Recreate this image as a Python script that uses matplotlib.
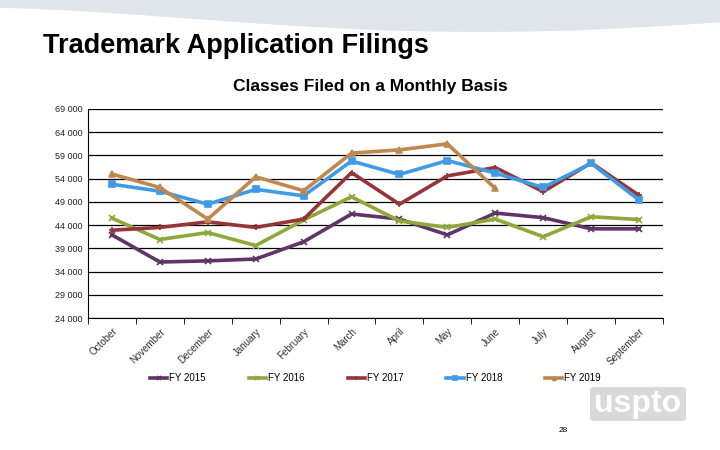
import matplotlib.pyplot as plt
import numpy as np
from matplotlib.patches import FancyBboxPatch

plt.rcParams['font.family'] = ['Liberation Sans', 'DejaVu Sans']

months = ["October", "November", "December", "January", "February", "March",
          "April", "May", "June", "July", "August", "September"]
fy2015 = [41900, 36050, 36300, 36700, 40400, 46400, 45300, 41900, 46600, 45600, 43200, 43200]
fy2016 = [45500, 40900, 42400, 39600, 45100, 50100, 44900, 43500, 45300, 41500, 45800, 45200]
fy2017 = [42900, 43500, 44700, 43500, 45300, 55300, 48500, 54600, 56400, 51200, 57400, 50400]
fy2018 = [52800, 51300, 48500, 51700, 50300, 57800, 54900, 57900, 55200, 52100, 57300, 49400]
fy2019 = [55000, 52100, 45300, 54400, 51400, 59500, 60200, 61500, 51900]
yticks = [24000, 29000, 34000, 39000, 44000, 49000, 54000, 59000, 64000, 69000]

fig = plt.figure(figsize=(7.2, 4.5), dpi=100)

# decorative band at the top of the slide
bg = fig.add_axes([0, 0, 1, 1], zorder=-5)
bg.set_xlim(0, 720)
bg.set_ylim(450, 0)
bg.axis('off')
xs = np.linspace(0, 720, 100)
lower = 8 + 24 * np.sin(np.pi * xs / 960) ** 1.5
bg.fill_between(xs, 0, lower, color='#dfe5eb', lw=0)

fig.text(0.06, 1 - 46 / 450, "Trademark Application Filings", fontsize=19.5,
         fontweight='bold', va='center', ha='left')
fig.text(0.514, 1 - 87 / 450, "Classes Filed on a Monthly Basis", fontsize=12.5,
         fontweight='bold', va='center', ha='center')

ax = fig.add_axes([88 / 720, 1 - 318 / 450, (663 - 88) / 720, (318 - 109) / 450])
x = np.arange(len(months))
series = [
    ("FY 2015", fy2015, '#5f3566', 'x'),
    ("FY 2016", fy2016, '#8fa83c', 'x'),
    ("FY 2017", fy2017, '#963538', '+'),
    ("FY 2018", fy2018, '#3f9be6', 's'),
    ("FY 2019", fy2019, '#c0874f', '^'),
]
for name, vals, col, mk in series:
    ax.plot(x[:len(vals)], vals, color=col, lw=2.6, marker=mk, ms=4.5,
            mec=col, mfc=col, mew=1.2, label=name)

ax.set_xlim(-0.5, 11.5)
ax.set_ylim(24000, 69000)
ax.set_yticks(yticks)
ax.set_yticklabels([f"{v // 1000} 000" for v in yticks], fontsize=6.5, color='#222222')
ax.yaxis.grid(True, color='black', lw=0.9)
ax.set_axisbelow(True)
ax.tick_params(axis='y', length=0, pad=4)
ax.set_xticks(x)
ax.set_xticklabels(months, rotation=45, ha='right', rotation_mode='anchor',
                   fontsize=7, color='#333333')
ax.set_xticks(np.arange(-0.5, 12, 1), minor=True)
ax.tick_params(axis='x', which='major', length=0, pad=6)
ax.tick_params(axis='x', which='minor', length=4, color='black')
for s in ['top', 'right']:
    ax.spines[s].set_visible(False)
ax.spines['left'].set_color('black')
ax.spines['bottom'].set_color('black')

ax.legend(loc='center', bbox_to_anchor=(0.5, -0.287), ncol=5, frameon=False,
          fontsize=7, handlelength=1.8, handletextpad=0.2, columnspacing=4.4,
          markerscale=0.6)

# uspto logo
logo = FancyBboxPatch((590 / 720, 1 - 421 / 450), 96 / 720, 34 / 450,
                      boxstyle="round,pad=0,rounding_size=0.006",
                      transform=fig.transFigure, color='#d9d9d9', lw=0)
fig.patches.append(logo)
fig.text(638 / 720, 1 - 404 / 450, "uspto", fontsize=23, color='white',
         fontweight='bold', ha='center', va='center')
fig.text(563 / 720, 1 - 430 / 450, "28", fontsize=6, ha='center', va='center')

fig.savefig("out.png", dpi=100)
